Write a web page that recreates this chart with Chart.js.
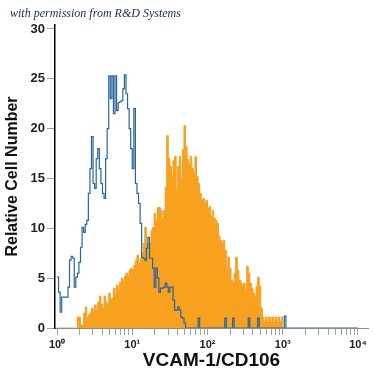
<!DOCTYPE html>
<html>
<head>
<meta charset="utf-8">
<script src="https://cdn.jsdelivr.net/npm/chart.js@4"></script>
<style>
  html, body { margin: 0; padding: 0; background: #fff; }
  #wrap { width: 375px; height: 375px; position: relative; }
</style>
</head>
<body>
<div id="wrap"><canvas id="myChart"></canvas></div>
<script>
// histogram channels: 48 bins per decade, starting at 10^0
const binsPerDecade = 48;

// isotype control (blue outline)
const controlCounts = [
    5.1, 3.6, 1.6, 3.1, 3.1, 3.1, 3.1, 4.1, 6.8, 7.2,
    7.0, 4.1, 5.1, 5.5, 6.6, 8.1, 10.1, 9.6, 10.4, 10.8,
    13.5, 16.0, 19.2, 14.5, 14.0, 17.0, 18.0, 16.0, 14.5, 13.5,
    13.0, 17.0, 20.0, 25.3, 23.0, 25.3, 21.5, 25.3, 21.8, 22.6,
    22.7, 22.8, 24.0, 25.4, 23.5, 22.0, 20.0, 18.0, 16.0, 22.0,
    14.5, 13.5, 12.5, 10.5, 7.1, 7.0, 6.8, 8.0, 9.1, 7.0,
    7.0, 6.0, 4.1, 6.0, 5.0, 3.6, 4.0, 4.0, 4.1, 4.5,
    4.1, 3.6, 4.1, 4.1, 2.8, 1.8, 1.8, 2.1, 1.8, 1.1,
    1.0, 0.5, 0, 0, 0, 0, 0, 0, 0, 0,
    1.0, 0, 0, 0, 0, 0, 0, 0, 0, 0,
    0, 0, 0, 0, 0, 0, 0, 1.0, 0, 0,
    0, 0, 1.0, 0, 0, 0, 0, 0, 0, 0,
    0, 0, 1.0, 0, 0, 0, 0, 0, 1.0, 0,
    0, 0, 0, 0, 0, 0, 0, 0, 0, 0,
    0, 0, 0, 0, 0, 1.2, 0, 0, 0, 0,
    0, 0, 0, 0, 0, 0, 0, 0, 0, 0,
    0, 0, 0, 0, 0, 0, 0, 0, 0, 0,
    0, 0, 0, 0, 0, 0, 0, 0, 0, 0,
    0, 0, 0, 0, 0, 0, 0, 0, 0, 0,
    0, 0, 0
];

// VCAM-1 stained cells (orange filled)
const stainedCounts = [
    0, 0, 0, 0, 0, 0, 0, 0, 0, 0,
    0, 0, 0, 1.1, 1.1, 0.3, 0.3, 1.5, 2.1, 1.0,
    1.3, 1.5, 2.0, 1.7, 2.3, 1.8, 2.6, 3.2, 2.4, 2.0,
    3.2, 2.6, 2.3, 3.5, 2.8, 3.0, 4.0, 3.4, 4.3, 3.8,
    4.6, 5.0, 4.7, 5.2, 5.5, 5.2, 5.8, 6.0, 5.8, 6.3,
    6.8, 7.3, 6.5, 7.0, 7.5, 8.5, 10.1, 8.5, 7.8, 8.5,
    9.8, 10.1, 11.5, 10.8, 12.1, 12.1, 11.8, 11.0, 11.8, 14.1,
    19.3, 17.0, 16.2, 15.3, 16.8, 17.2, 14.0, 16.2, 17.2, 15.0,
    17.9, 20.3, 18.2, 16.9, 16.5, 17.2, 16.0, 15.5, 17.2, 15.2,
    14.5, 13.5, 12.8, 13.0, 12.5, 12.8, 12.0, 12.2, 11.2, 11.8,
    11.0, 10.8, 10.5, 9.2, 8.8, 8.5, 8.8, 7.8, 5.8, 7.1,
    6.0, 4.8, 4.6, 5.5, 7.1, 5.8, 4.8, 4.6, 4.2, 4.5,
    3.8, 6.2, 5.5, 4.5, 4.0, 3.5, 3.2, 4.2, 5.1, 4.2,
    2.0, 1.1, 0.6, 1.1, 0.6, 1.1, 0.6, 1.1, 0.6, 1.1,
    0.6, 1.1, 0.6, 1.1, 0
];

const xMajorTicks = [ 1, 10, 100, 1000, 10000 ];
const xTickLabels = [ '10⁰', '10¹', '10²', '10³', '10⁴' ];
const yTickValues = [ 0, 5, 10, 15, 20, 25, 30 ];

const toPoints = ( arr ) => arr.map( ( v, i ) => ( { x: Math.pow( 10, i / binsPerDecade ), y: v } ) );

// minor ticks 2..9 inside every decade
const xTickValues = [];
for ( let d = 0; d < 4; d++ )
{
    for ( let k = 1; k < 10; k++ ) xTickValues.push( k * Math.pow( 10, d ) );
}
xTickValues.push( 10000 );

const creditText = {
    id: 'creditText',
    afterDraw( chart )
    {
        const c = chart.ctx;
        c.save();
        c.font = 'italic 12px "Liberation Serif"';
        c.fillStyle = '#1c2a4e';
        c.textBaseline = 'alphabetic';
        c.fillText( 'with permission from R&D Systems', 10, 17 );
        c.restore();
    }
};

const ctx = document.getElementById( 'myChart' );

new Chart( ctx, {
    type: 'line',
    data: {
        datasets: [ {
            label: 'Control',
            data: toPoints( controlCounts ),
            borderColor: '#2a64a0',
            borderWidth: 1.2,
            stepped: true,
            fill: false,
            pointRadius: 0
        },
        {
            label: 'VCAM-1',
            data: toPoints( stainedCounts ),
            borderColor: '#f5a01e',
            backgroundColor: '#f8a11f',
            borderWidth: 1,
            stepped: true,
            fill: 'origin',
            pointRadius: 0
        } ]
    },
    options: {
        responsive: true,
        maintainAspectRatio: false,
        animation: false,
        layout: { padding: { top: 25, right: 7, left: 0, bottom: 0 } },
        plugins: {
            legend: { display: false },
            tooltip: { enabled: false }
        },
        scales: {
            x: {
                type: 'logarithmic',
                min: Math.pow( 10, -0.0266 ),
                max: Math.pow( 10, 4.133 ),
                afterBuildTicks: ( scale ) =>
                {
                    scale.ticks = xTickValues.map( v => ( { value: v } ) );
                },
                afterFit: ( scale ) => { scale.height = 47; },
                ticks: {
                    autoSkip: false,
                    maxRotation: 0,
                    padding: 3,
                    color: '#222',
                    font: { family: 'Liberation Sans', size: 11, weight: 'bold' },
                    callback: ( value ) =>
                    {
                        const idx = xMajorTicks.findIndex( m => Math.abs( m - value ) < 1e-6 * m );
                        return idx >= 0 ? xTickLabels[ idx ] : '';
                    }
                },
                grid: {
                    drawOnChartArea: false,
                    drawTicks: true,
                    tickLength: 7,
                    color: '#a0a0a8'
                },
                border: { display: true, color: '#8a8a8a', width: 1 },
                title: {
                    display: true,
                    text: 'VCAM-1/CD106',
                    color: '#111',
                    font: { family: 'Liberation Sans', size: 19, weight: 'bold' },
                    padding: { top: 0, bottom: 3 }
                }
            },
            y: {
                min: 0,
                max: 30.4,
                afterBuildTicks: ( scale ) =>
                {
                    scale.ticks = yTickValues.map( v => ( { value: v } ) );
                },
                afterFit: ( scale ) => { scale.width = 55; },
                ticks: {
                    padding: 2,
                    color: '#222',
                    font: { family: 'Liberation Sans', size: 13, weight: 'bold' }
                },
                grid: {
                    drawOnChartArea: false,
                    drawTicks: true,
                    tickLength: 8,
                    color: '#a0a0a0'
                },
                border: { display: true, color: '#000', width: 1.5 },
                title: {
                    display: true,
                    text: 'Relative Cell Number',
                    color: '#111',
                    font: { family: 'Liberation Sans', size: 16, weight: 'bold' },
                    padding: { top: 3, bottom: 0 }
                }
            }
        }
    },
    plugins: [ creditText ]
} );
</script>
</body>
</html>
